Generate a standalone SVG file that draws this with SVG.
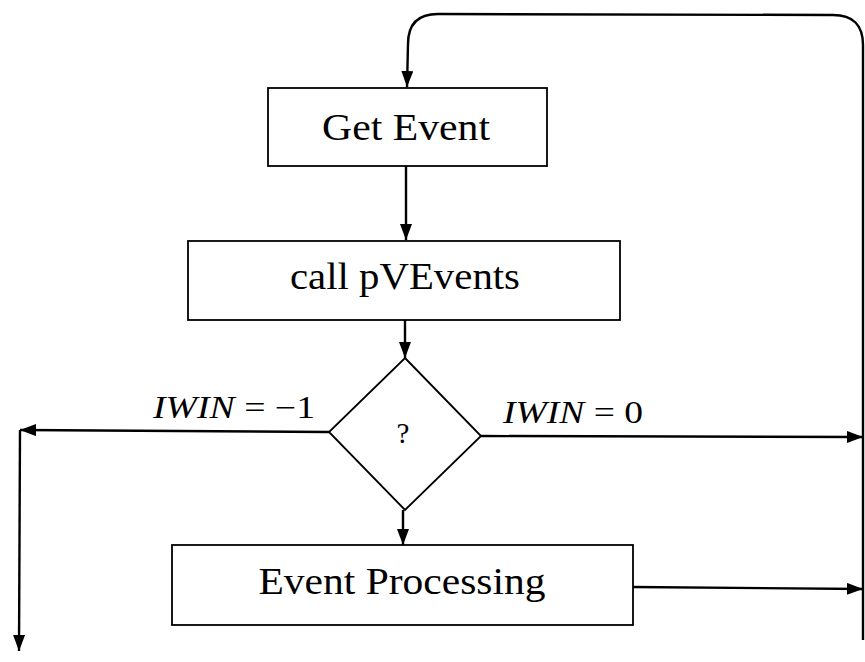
<svg xmlns="http://www.w3.org/2000/svg" width="865" height="662" viewBox="0 0 865 662">
<style>
.box{fill:#fff;stroke:#000;stroke-width:1.8}
.ln{fill:none;stroke:#000;stroke-width:2.4}
.t{font-family:"Liberation Serif","Times New Roman",serif;font-size:38px;fill:#000;text-anchor:middle}
.m{font-family:"Liberation Serif","Times New Roman",serif;font-size:31px;fill:#000}
.i{font-style:italic}
</style>
<defs>
<marker id="ah" viewBox="0 0 16 12" refX="16" refY="6" markerWidth="16" markerHeight="12" markerUnits="userSpaceOnUse" orient="auto">
<path d="M0,0 L16,6 L0,12 Z" fill="#000"/>
</marker>
</defs>
<rect width="865" height="662" fill="#fff"/>
<g id="connectors">
<path class="ln" d="M863,640 L863,45 Q863,15 833,15 L438,14 Q408,14 408,44 L407,87" marker-end="url(#ah)"/>
<path class="ln" d="M406,166 L406,240" marker-end="url(#ah)"/>
<path class="ln" d="M405,320 L405,358" marker-end="url(#ah)"/>
<path class="ln" d="M329,432 L20,430" marker-end="url(#ah)"/>
<path class="ln" d="M20,430 L19,651" marker-end="url(#ah)"/>
<path class="ln" d="M481,436 L863,437" marker-end="url(#ah)"/>
<path class="ln" d="M403,510 L403,545" marker-end="url(#ah)"/>
<path class="ln" d="M633,587 L863,589" marker-end="url(#ah)"/>
<text class="m" x="153" y="418" textLength="162" lengthAdjust="spacingAndGlyphs"><tspan class="i">IWIN</tspan> = −1</text>
<text class="m" x="503" y="423" textLength="140" lengthAdjust="spacingAndGlyphs"><tspan class="i">IWIN</tspan> = 0</text>
</g>
<g id="get-event">
<rect class="box" x="268" y="88" width="279" height="78"/>
<text class="t" x="406" y="140" textLength="168" lengthAdjust="spacingAndGlyphs">Get Event</text>
</g>
<g id="call-pvevents">
<rect class="box" x="188" y="241" width="432" height="79"/>
<text class="t" x="405" y="289" textLength="230" lengthAdjust="spacingAndGlyphs">call pVEvents</text>
</g>
<g id="decision">
<path class="box" d="M405,358 L481,436 L405,510 L329,432 Z"/>
<text class="t" x="403" y="443" style="font-size:29px">?</text>
</g>
<g id="event-processing">
<rect class="box" x="172" y="545" width="461" height="80"/>
<text class="t" x="402" y="594" textLength="287" lengthAdjust="spacingAndGlyphs">Event Processing</text>
</g>
</svg>
